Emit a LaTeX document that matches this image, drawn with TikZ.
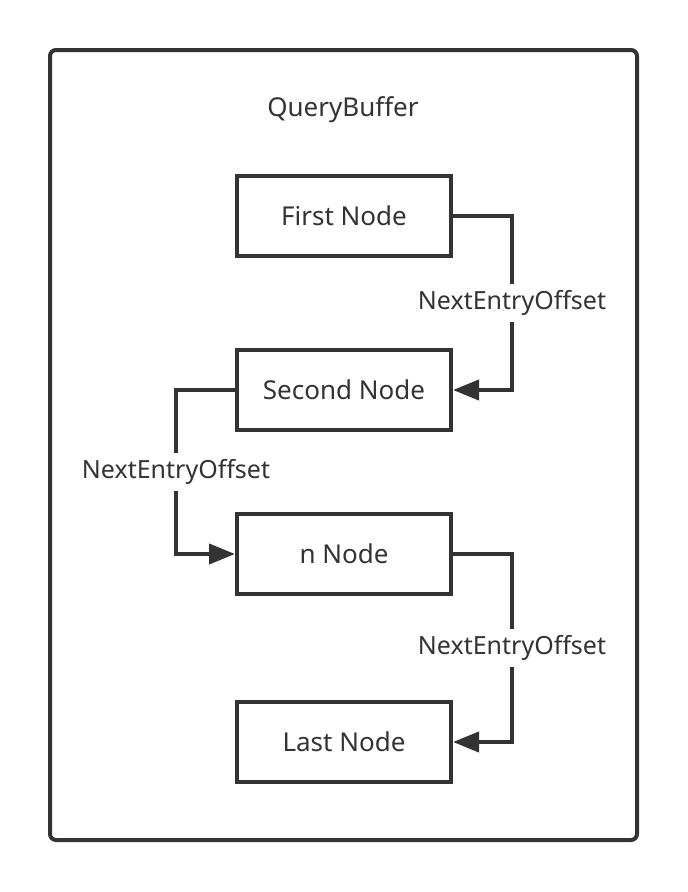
\documentclass[tikz,border=0pt]{standalone}
\usepackage{fontspec}
\setmainfont{Noto Sans}
\usetikzlibrary{arrows.meta}
\definecolor{ink}{HTML}{333333}
\tikzset{
  entry/.style={draw=ink, line width=4pt, minimum width=214pt, minimum height=80pt,
    inner sep=0pt, text=ink, font=\fontsize{26}{30}\selectfont},
  link/.style={draw=ink, line width=4pt, -{Triangle[length=26pt,width=20pt]}},
  offset/.style={fill=white, text=ink, inner sep=6pt, font=\fontsize{25}{29}\selectfont}
}
\begin{document}
\begin{tikzpicture}[x=1pt,y=-1pt]
            \useasboundingbox (0,0) rectangle (688,892);
            \draw[ink, line width=4pt, rounded corners=6pt] (50,50) rectangle (637,840);
            \node[text=ink, font=\fontsize{26}{30}\selectfont] (title) at (343,110) {QueryBuffer};
            % list entries
            \node[entry] (first) at (344,216) {First Node};
            \node[entry] (second) at (344,390) {Second Node};
            \node[entry] (nnode) at (344,554) {n Node};
            \node[entry] (last) at (344,742) {Last Node};
            % offsets
            \draw[link] (first.east) -- ++(59,0) |- node[pos=0.25,offset] {NextEntryOffset} (second.east);
            \draw[link] (second.west) -- ++(-59,0) |- node[pos=0.25,offset] {NextEntryOffset} (nnode.west);
            \draw[link] (nnode.east) -- ++(59,0) |- node[pos=0.25,offset] {NextEntryOffset} (last.east);
          \end{tikzpicture}
\end{document}
